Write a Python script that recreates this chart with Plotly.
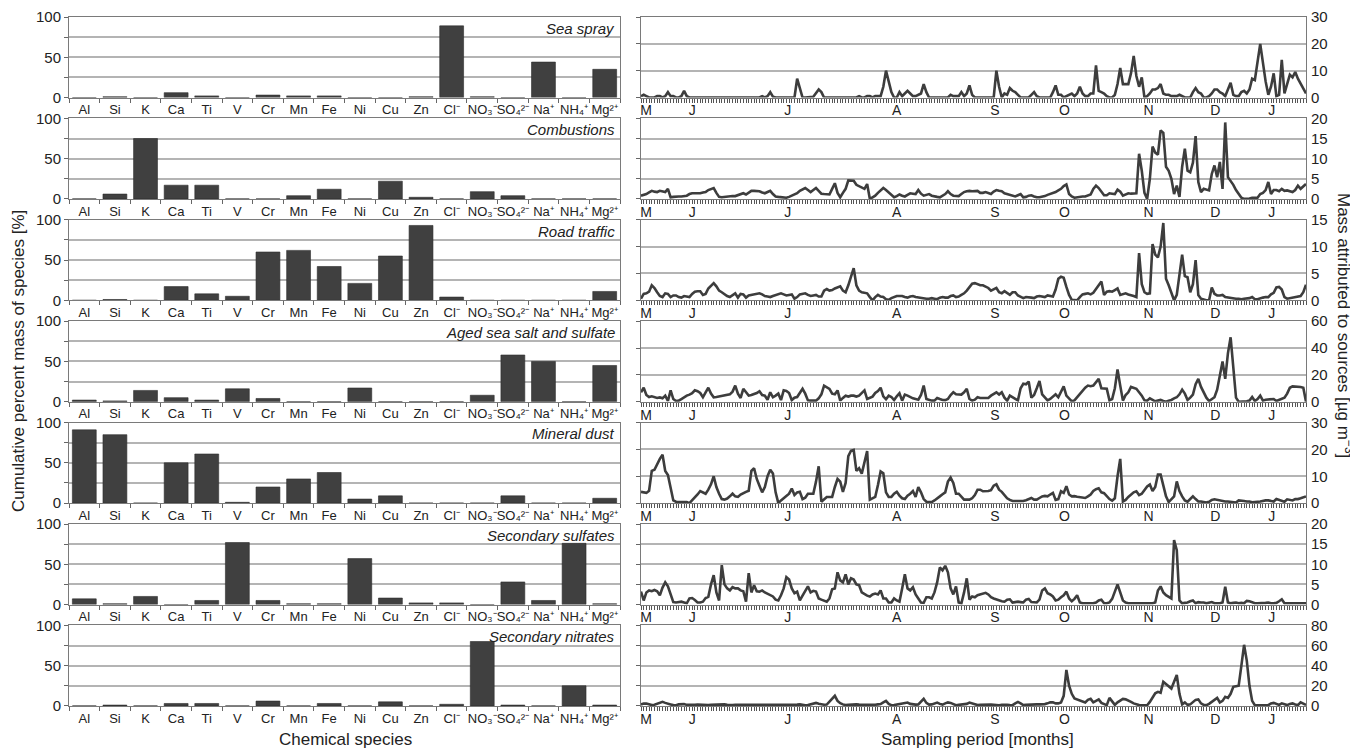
import plotly.graph_objects as go

# ---------------- data ----------------
sources = ["Sea spray", "Combustions", "Road traffic", "Aged sea salt and sulfate",
           "Mineral dust", "Secondary sulfates", "Secondary nitrates"]

species = ["Al", "Si", "K", "Ca", "Ti", "V", "Cr", "Mn", "Fe", "Ni", "Cu", "Zn",
           "Cl⁻", "NO₃⁻", "SO₄²⁻", "Na⁺", "NH₄⁺", "Mg²⁺"]

bar_sea_spray   = [0, 1, 0, 6, 2, 0, 3, 2, 2, 0, 0, 1, 89, 1, 0, 44, 0, 35]
bar_combustions = [0, 6, 75, 17, 17, 0, 0, 4, 12, 0, 22, 2, 0, 9, 4, 0, 0, 0]
bar_road        = [0, 1, 0, 17, 8, 5, 60, 62, 42, 21, 55, 93, 4, 0, 0, 0, 0, 11]
bar_aged        = [2, 1, 14, 5, 2, 16, 4, 0, 0, 17, 0, 0, 0, 8, 58, 50, 0, 45]
bar_dust        = [91, 85, 0, 50, 61, 1, 20, 30, 38, 5, 9, 0, 0, 0, 9, 0, 0, 6]
bar_sulfates    = [7, 1, 10, 0, 5, 77, 5, 1, 1, 57, 8, 2, 2, 0, 28, 5, 76, 1]
bar_nitrates    = [0, 1, 0, 3, 3, 0, 6, 0, 3, 0, 5, 0, 2, 80, 1, 0, 25, 1]

ts_sea_spray = [
    0.5, 1, 0.5, 0, 0, 0, 0.5, 0.5, 0, 0.5,
    2, 0.5, 0.5, 0, 0, 0.5, 2.5, 0.5, 0, 0,
    0, 0, 0, 0, 0, 0, 0, 0, 0, 0,
    0, 0, 0, 0, 0, 0, 0, 0, 0, 0,
    0, 0, 0, 0, 0, 0.5, 0, 0.5, 2, 0.3,
    0, 0, 0, 0, 0, 0, 0, 0, 7, 3,
    0, 0, 0, 0.2, 0.3, 1.5, 3, 2, 0, 0,
    0, 0, 0, 0, 0, 0, 0, 0, 0, 0,
    0, 0.5, 0, 0, 0.5, 0.5, 0, 0.5, 0.5, 0.5,
    4, 10, 6, 2, 0, 0, 2, 0.5, 1.5, 2.5,
    1.5, 0.5, 0.5, 1, 1.5, 5, 2, 0, 0, 0,
    0, 0, 0, 0, 0, 1, 0.5, 0.5, 0.5, 2,
    0.5, 1.5, 4.5, 1, 0, 0, 0, 0, 0, 0,
    0, 0, 10, 4, 0, 1.5, 1, 3.5, 2.5, 2,
    1, 0, 0, 0, 0, 1, 2, 0.5, 0, 0,
    0, 0, 0, 2, 4.5, 1, 1, 0, 0.5, 1,
    1.5, 0.5, 1.5, 4, 1.5, 0.5, 0.5, 1.5, 1.5, 12,
    2.5, 2, 1.5, 0.5, 0, 0, 1, 5, 11, 5,
    5, 5, 9, 15.5, 8, 4, 7.5, 0, 0.5, 1.5,
    3, 3, 3.5, 5, 1.5, 1, 1, 0.5, 0.5, 0.5,
    1, 0.5, 0, 0, 0, 2, 3.5, 2, 1.5, 0,
    0, 0.5, 1.5, 3, 3, 2, 1.5, 0.5, 3, 5.5,
    1, 0.5, 0.5, 2, 2.5, 1.5, 3, 7, 6.5, 14,
    20, 13, 6, 1, 4, 9, 0.5, 1, 14, 1.5,
    5, 8.5, 7.5, 9.5, 7, 5, 3, 1.5]

ts_combustions = [
    0.8, 1.0, 1.2, 1.6, 2, 1.8, 1.7, 2, 1.9, 1.7,
    2.5, 0.4, 0.5, 0.6, 0.6, 0.6, 0.7, 0.8, 1.2, 1.4,
    1.4, 1.4, 1.4, 1.6, 1.7, 2.2, 2.5, 2.7, 1.5, 0.5,
    0.4, 0.5, 0.6, 0.6, 0.7, 0.7, 1.0, 1.3, 1.4, 1.1,
    1.5, 2, 2, 1.9, 1.9, 1.6, 1.4, 1.7, 2, 1.2,
    0.6, 0.5, 0.4, 0.4, 0.3, 0.5, 0.8, 1.1, 1.4, 2,
    2.4, 2.7, 2.2, 1.7, 2.2, 2.7, 2, 1.3, 1.2, 1.1,
    1.1, 2.5, 3.9, 1.5, 0.4, 1.5, 2.5, 4.6, 4.6, 4.5,
    3.5, 3.1, 2.8, 2.5, 3.7, 0, 0.4, 0.8, 1.5, 2.2,
    2.7, 2.2, 1.6, 1.2, 0.4, 0.7, 1.1, 0.8, 0.6, 1.0,
    1.4, 1.3, 1.2, 2.2, 1.3, 0.8, 1, 1.2, 0.8, 0.6,
    0.5, 0.4, 0.7, 1.2, 1.9, 1.2, 0.8, 0.7, 0.7, 1.2,
    1.7, 1.9, 2, 1.9, 1.9, 2, 1.5, 1.5, 1.7, 1.4,
    1.2, 1.8, 2.2, 2, 1.9, 1.4, 1.2, 1.1, 0.9, 0.6,
    0.9, 1.2, 0.4, 0.5, 0.8, 0.9, 0.6, 0.4, 0.4, 0.5,
    0.7, 1.0, 1.2, 1.4, 1.7, 2.1, 2.5, 3.2, 3.6, 1.2,
    0.6, 0.3, 0.4, 0.6, 0.6, 0.6, 0.9, 1.1, 2.5, 3.3,
    2.7, 1.8, 0.9, 0.9, 1.4, 1.3, 1.2, 2.3, 1.8, 0.8,
    1.2, 1.4, 1.3, 1.3, 1.4, 11.2, 7, 1.5, 0, 5,
    13, 11.5, 11, 17, 16.4, 8, 7, 5, 1.2, 3.3,
    0.5, 8, 12.5, 7, 6.6, 9, 15.6, 4.2, 1.7, 2.5,
    2.2, 2.1, 6.2, 8.3, 5.4, 9.2, 2.5, 19, 5.4, 4.5,
    3.5, 2.2, 1.2, 0.3, 0, 0, 0.1, 0.3, 0.3, 0.3,
    1.2, 1.5, 2.2, 4.2, 1.2, 2.2, 2.2, 1.9, 2.5, 2,
    2.1, 1.9, 1.7, 2.2, 3.3, 2.5, 3, 3.7]

ts_road = [
    0.3, 1.2, 1.3, 1.6, 2.8, 2.3, 1.5, 0.8, 0.6, 1.3,
    1.2, 0.6, 0.9, 0.9, 0.6, 0.5, 0.8, 0.7, 0.6, 1.2,
    1.6, 1.7, 1.7, 1, 1.2, 2.2, 2.8, 3.2, 2.6, 1.8,
    1.5, 1.1, 0.8, 0.6, 0.9, 1.3, 0.5, 1.2, 1.1, 0.5,
    0.9, 1.0, 1.1, 1.2, 1.3, 1.1, 0.8, 0.7, 0.6, 0.8,
    1.0, 1.2, 1.3, 1.1, 0.9, 1.0, 1.1, 0.3, 0.6, 1.1,
    1.2, 1.3, 1.0, 0.8, 0.9, 1.0, 0.7, 0.7, 1.8, 2.1,
    1.8, 1.9, 2.2, 2.4, 2.6, 1.8, 1.5, 2.8, 4.5, 6,
    2.8, 1.8, 1.5, 1.4, 1.3, 0.6, 0, 0.6, 1.0, 0.7,
    0.6, 0.2, 0.1, 0.4, 0.6, 0.8, 0.8, 0.8, 0.6, 0.5,
    0.7, 0.8, 0.6, 0.5, 0.4, 0.3, 0.3, 0.3, 0.4, 0.3,
    0.2, 0.5, 0.6, 0.5, 0.5, 0.8, 0.9, 0.6, 0.7, 1.0,
    1.3, 1.8, 2.4, 3.1, 3.2, 3, 2.8, 2.8, 2.5, 2.3,
    1.8, 2.0, 2.3, 1.5, 1.3, 1.7, 1.4, 1.0, 1.5, 1.5,
    0.9, 0.6, 0.4, 0.6, 0.6, 0.5, 0.4, 0.7, 0.8, 0.7,
    0.6, 0.9, 0.8, 0.7, 2, 4.0, 4.4, 4.2, 2.5, 1.0,
    0.1, 0, 0, 0.6, 1.1, 1.2, 1.3, 1.1, 1.4, 2.1,
    2.8, 3.5, 1.0, 1.6, 1.7, 1.6, 1.9, 2.2, 1.0, 1.2,
    1.3, 1.1, 1.0, 0.8, 0.6, 8.8, 3, 1.5, 1.2, 1.3,
    10.5, 8.5, 8, 10, 14.4, 4, 2.8, 1.5, 0, 1,
    5, 8.5, 4.5, 4.3, 1.5, 3, 7.5, 1, 0.3, 0.1,
    0, 0, 2.4, 1.2, 0.9, 0.9, 1.0, 0.6, 0.5, 0.4,
    0.3, 0.3, 0.3, 0.2, 0.3, 0.3, 0.4, 0.6, 0.2, 0.2,
    0.4, 0.5, 0.6, 0.6, 1.1, 1.4, 2.4, 2.5, 2, 0.6,
    0.3, 0.4, 0.6, 0.6, 0.8, 0.8, 1.5, 2.9]

ts_aged = [
    7, 10.4, 5, 3.5, 4, 3.3, 2.8, 3.2, 2.5, 4.5,
    0.5, 8.4, 2, 0.5, 0.8, 2, 3.5, 4.5, 5.3, 6.3,
    8.5, 7.8, 6.5, 3.3, 7, 10.4, 6, 3.3, 3.5, 3.8,
    4.2, 4.5, 5, 5.5, 7.5, 12, 6, 2.8, 9.6, 7,
    4.5, 5, 5.5, 6.5, 7.8, 5, 4.5, 1.5, 7, 3.3,
    4.5, 6, 1.2, 8.5, 8, 6.5, 1.2, 3, 3.5, 6.5,
    9.6, 6, 1, 0.8, 0.8, 0.8, 2.5, 5.5, 12, 11,
    9.6, 6, 5.6, 8.4, 0.8, 2.8, 4.5, 3.8, 4.5, 4.5,
    3.8, 4.5, 6.5, 8.4, 2, 3, 3.8, 6.5, 8, 10.4,
    4, 1.8, 4.5, 3.5, 1.2, 4, 6.3, 0.8, 5.3, 4.5,
    3.3, 2.5, 2, 1.5, 5, 12, 2, 1.3, 0.8, 0.8,
    2.8, 2, 1.3, 1.2, 2, 5, 7, 5.5, 5.3, 5.3,
    7, 9.6, 2, 0.8, 1.5, 3.3, 2.8, 2.8, 2.8, 2.8,
    4.5, 6, 7, 5.3, 7, 3, 0.8, 4.5, 3.3, 1.8,
    1, 10, 13.4, 13, 15, 3, 5, 10, 15.4, 5.5,
    3.3, 1, 2, 3.5, 5.5, 3.3, 8, 11.4, 4.5, 2,
    0.3, 1, 3.3, 6, 8.4, 10.4, 12, 11.5, 12, 14.5,
    17, 10, 10, 9.6, 1, 2, 10, 24, 12, 0.8,
    5, 7, 11, 10.5, 9.6, 7, 4.5, 1, 0.8, 2.5,
    1.5, 0.3, 0.8, 1.3, 0.5, 0, 0.8, 1.3, 2.5, 3.3,
    5.5, 9, 6, 1.3, 3, 5.3, 13, 17, 11, 7,
    3, 0.5, 2, 3.3, 9, 20, 30, 17, 36, 48,
    25, 3, 0, 0, 0, 0.3, 0.8, 3.5, 0.5, 2,
    4.5, 0.8, 1.5, 1.8, 1.8, 2, 0.5, 1.3, 2.5, 3,
    6, 10.4, 11.4, 11.4, 11.4, 11, 10.4, 0]

ts_dust = [
    4.2, 4, 3.8, 4.6, 12, 12.4, 14.5, 16.5, 18, 12,
    10.5, 5, 1, 0.5, 0.5, 0.6, 0.4, 0.4, 0, 1,
    2.2, 3.2, 4.5, 4, 3.5, 5, 7, 10, 6, 3.5,
    1.5, 1.3, 1.7, 2.5, 3.5, 2.5, 2.3, 3.2, 3.8, 4.2,
    4.6, 12, 13, 9, 6.5, 4, 6, 10, 12.4, 11,
    4, 0, 1, 1.8, 2.5, 3.5, 5.4, 3, 4, 4.2,
    1.5, 2, 3.5, 3.5, 3.5, 8, 13.7, 0.5, 1.5, 2.3,
    2.3, 2.3, 6, 9, 8, 4.2, 7.5, 17.5, 19.5, 19.8,
    12, 13, 11, 15, 19.4, 1.3, 1.8, 2.3, 6.7, 11.8,
    11.1, 4, 2.3, 2.3, 3.5, 4.2, 2.8, 1.8, 1.5, 2.8,
    3.5, 4.5, 2.3, 6, 4, 1.5, 0.5, 0.4, 0.4, 1,
    1.6, 2.5, 3.3, 4, 8, 9.5, 7.5, 3.5, 3.5, 2.5,
    1.3, 1.3, 1.3, 1.8, 3, 5, 5, 4.4, 4.4, 4.5,
    4.8, 6.5, 7, 5, 4.2, 3, 1.8, 1.2, 0.8, 0.8,
    0.8, 0.8, 0.8, 1.1, 1.5, 1.9, 1.3, 1.3, 1.9, 2.5,
    2.7, 2.5, 3.2, 3.8, 1.2, 1.5, 4.4, 3.8, 6.3, 3.2,
    2.5, 2.6, 2.4, 2.2, 2, 1.9, 2.5, 3.2, 4.5, 5.2,
    5.5, 4, 3.7, 2.5, 1.5, 0.9, 1.8, 10, 16.5, 0.6,
    1.2, 2.3, 3.3, 4, 4.4, 3, 3.5, 5, 6.2, 6.9,
    4.5, 6, 10.6, 10.6, 7, 2.5, 0.4, 1.5, 2.5, 8.1,
    4.5, 2.5, 1, 0.5, 1.5, 2.5, 1.5, 0.6, 0.6, 0.4,
    0.2, 0.5, 1.2, 1.4, 1.2, 0.8, 0.7, 0.6, 0.6, 0.5,
    0.3, 0.2, 1, 1, 0.8, 0.6, 0.6, 0.3, 0.3, 0.5,
    0.6, 0.9, 1, 1, 0.8, 0.6, 1.5, 1.2, 0.7, 0.5,
    1.4, 1.1, 1, 1.5, 1.5, 1.8, 2.1, 2.5]

ts_sulfates = [
    3.2, 1, 3, 3.5, 3.3, 3.6, 3.3, 2.3, 4.2, 5.5,
    4.5, 2.5, 0.6, 0.5, 0.6, 0.7, 0.5, 0.3, 1.5, 1.6,
    1.1, 0.5, 0.5, 0.7, 1.6, 1.9, 5, 7.3, 3, 1,
    9.8, 5, 4, 3.5, 4.3, 4, 4, 3.5, 3.3, 0.7,
    7.8, 3, 4.8, 3.3, 3.2, 3.5, 3, 2.7, 2.3, 2,
    1.2, 1, 2.3, 4, 6.8, 6.2, 4, 2.8, 3.2, 1,
    2.2, 3.5, 4.5, 3, 3.4, 3.2, 1.5, 1.2, 1, 0.7,
    1.5, 3.8, 4, 8, 6, 5.5, 7.5, 5, 6.5, 6.2,
    5, 4.8, 3, 2.5, 2.2, 2, 2.5, 2.7, 2.5, 3.5,
    1.5, 1.5, 0.5, 0.5, 1.5, 1, 0.7, 4, 7.5, 4,
    3.5, 4.3, 2.5, 1.5, 0.5, 0.4, 1.8, 1.8, 1.5, 3,
    5.5, 9.2, 8.5, 9.6, 8, 4, 2.5, 4.5, 0.5, 0.3,
    3, 6.5, 1.2, 2, 1.8, 2.3, 2.5, 2.8, 2.9, 2.5,
    1.8, 1.5, 1.2, 0.9, 0.8, 0.7, 1.2, 1.3, 0.5, 0.6,
    0.7, 0.6, 0.5, 1.2, 1.4, 0.6, 0.5, 0.5, 1.2, 3.5,
    4, 2.8, 2.5, 2, 1, 1.2, 1.8, 2.3, 3.2, 1.5,
    0.8, 1.4, 2.3, 0.5, 0.3, 0.3, 0.3, 0.3, 0.3, 0.5,
    1, 1.2, 0.3, 0.3, 0.5, 1.4, 3, 5, 3, 1,
    0.5, 0.3, 0.3, 0.3, 0.3, 0.3, 0.3, 0.3, 0.3, 0.3,
    0.3, 0.5, 3.5, 4.5, 3, 2.3, 2, 1.5, 16, 13.5,
    1, 0.3, 0.4, 0.5, 0.8, 1.0, 0.3, 0.6, 0.5, 0.5,
    0.3, 0.5, 0.6, 0.3, 0.3, 0.3, 0.5, 4.4, 0.5, 0.3,
    0.4, 0.5, 0.3, 0.4, 0.3, 0.9, 0.8, 0.5, 0.3, 0.3,
    0.3, 0.3, 0.4, 0.5, 0.3, 0.3, 0.4, 0.8, 1.3, 0.3,
    0.3, 0.3, 0.3, 0.3, 0.3, 0.3, 0.3, 0.3]

ts_nitrates = [
    1.5, 2.3, 2.3, 1.5, 0.8, 1.2, 2.2, 3.2, 4, 3,
    2, 1.5, 0.8, 0.7, 1.5, 2, 1.8, 1, 0.8, 0.7,
    1, 1.3, 1, 0.8, 0.7, 0.8, 1.2, 1.3, 1.5, 1.6,
    1.8, 1.5, 1, 0.7, 0.8, 1, 1, 0.8, 0.7, 0.7,
    0.8, 0.9, 1, 0.8, 0.7, 0.8, 0.7, 0.6, 0.6, 0.7,
    0.6, 0.6, 0.6, 0.7, 0.7, 0.7, 0.8, 1, 1.3, 1.5,
    1, 0.7, 0.8, 1.5, 2.5, 3, 2.2, 1.5, 1.2, 1.3,
    4, 7, 10, 5, 2.7, 1.5, 0.8, 1.2, 1.5, 1.7,
    1.5, 1.3, 1.2, 1, 0.8, 0.8, 0.7, 1.2, 1.5, 1.8,
    3.5, 5, 2, 0.7, 0.8, 1.2, 1.5, 2.5, 3, 3.3,
    2, 1.5, 1.3, 1.5, 4, 7, 3, 1.3, 1.5, 2.5,
    3.3, 2, 1.3, 2.5, 3.5, 3, 1.5, 0.7, 1, 1.5,
    1.3, 2, 3.3, 2.5, 1.5, 0.8, 1, 1.2, 1.5, 1.2,
    1.3, 1.2, 0.8, 0.7, 1, 1.3, 1, 0.8, 0.7, 2.5,
    4, 2.5, 0.8, 1, 1.3, 1.5, 1.5, 1.5, 1.5, 1.5,
    1.8, 2.5, 3.5, 3.5, 2.5, 2.5, 3.5, 10, 35.7, 20,
    12, 7.5, 6.5, 5.5, 4, 3.5, 6, 7, 3.5, 5,
    6.5, 3, 1.5, 0.8, 8, 4, 1, 3.5, 5.5, 7,
    6.5, 5.5, 4, 2.5, 1.5, 0.8, 0.7, 0.7, 0.7, 4,
    8, 12.5, 14, 13, 24, 22, 20, 17.3, 24, 30.7,
    12, 1.5, 3.5, 1, 1.5, 3.5, 6, 6.5, 2.5, 1,
    0.7, 2, 4, 6, 8, 3.5, 5, 9, 8, 12,
    19, 19.5, 20, 40, 60.7, 45, 20, 5, 0.7, 0.5,
    0.3, 0.3, 0.5, 0.7, 2.5, 3, 2, 1, 2.5, 1.5,
    0.8, 2, 2.5, 1.5, 0.8, 3.5, 2, 1]

y_max = [30, 20, 15, 60, 30, 20, 80]
y_step = [10, 5, 5, 20, 10, 5, 20]

month_pos = [1.9, 19, 54.5, 95, 131.5, 157.3, 188.5, 213.3, 234.3]
month_lbl = ["M", "J", "J", "A", "S", "O", "N", "D", "J"]

bars = [bar_sea_spray, bar_combustions, bar_road, bar_aged, bar_dust, bar_sulfates, bar_nitrates]
series = [ts_sea_spray, ts_combustions, ts_road, ts_aged, ts_dust, ts_sulfates, ts_nitrates]

# ---------------- layout geometry (screen pixels) ----------------
OFF = 8                      # page body margin
W, H = 1358 - OFF, 750 - OFF # figure size
LX0, LX1 = 69, 620
RX0, RX1 = 641, 1306
TOP0, PITCH, PH = 17, 101.4, 80.5


def px(x):
    return (x - OFF) / W


def py(y):
    return 1 - (y - OFF) / H


FONT = "Liberation Sans, Arial, sans-serif"
BAR_C = "#404040"
LINE_C = "#3d3d3d"
GRID_C = "#b4b4b4"
FRAME_C = "#7a7a7a"
TXT_C = "#222222"


def nm(prefix, n):
    return prefix + ("" if n == 1 else str(n))


fig = go.Figure()
lay = {}
annotations = []

for k in range(7):
    top = TOP0 + PITCH * k
    bot = top + PH
    yd = [py(bot), py(top)]
    nL, nR, nO = 2 * k + 1, 2 * k + 2, 15 + k

    # --- bar panel ---
    fig.add_trace(go.Bar(
        x=species, y=bars[k], marker=dict(color=BAR_C, line=dict(color="#2b2b2b", width=0.6)),
        xaxis=nm("x", nL), yaxis=nm("y", nL), showlegend=False))
    lay[nm("xaxis", nL)] = dict(
        domain=[px(LX0), px(LX1)], anchor=nm("y", nL), type="category", automargin=False,
        range=[-0.5, len(species) - 0.5], tickson="boundaries", ticks="outside",
        ticklen=4, tickcolor="#666", tickangle=0, showline=True, mirror=True,
        linecolor=FRAME_C, linewidth=1, showgrid=False,
        tickfont=dict(size=13, color=TXT_C, family=FONT))
    lay[nm("yaxis", nL)] = dict(
        domain=yd, anchor=nm("x", nL), range=[0, 100], automargin=False,
        tickmode="array", tickvals=[0, 50, 100],
        ticks="outside", ticklen=4, tickcolor="#666", showgrid=True, gridcolor=GRID_C,
        gridwidth=1.5,
        minor=dict(tickmode="array", tickvals=[25, 75], ticks="outside", ticklen=4,
                   tickcolor="#666", showgrid=True, gridcolor=GRID_C, gridwidth=1.5),
        showline=True, mirror=True, linecolor=FRAME_C, linewidth=1,
        zeroline=False, tickfont=dict(size=15, color=TXT_C, family=FONT))
    annotations.append(dict(
        text="<i>" + sources[k] + "</i>", xref=nm("x", nL) + " domain", yref=nm("y", nL) + " domain",
        x=0.995, y=0.99, xanchor="right", yanchor="top", showarrow=False,
        font=dict(size=15, color=TXT_C, family=FONT)))

    # --- time series panel ---
    xs = list(range(len(series[k])))
    fig.add_trace(go.Scatter(
        x=xs, y=series[k], mode="lines", line=dict(color=LINE_C, width=2.6),
        xaxis=nm("x", nR), yaxis=nm("y", nR), showlegend=False))
    fig.add_trace(go.Scatter(
        x=xs, y=series[k], mode="none", hoverinfo="skip",
        xaxis=nm("x", nR), yaxis=nm("y", nO), showlegend=False))
    lay[nm("xaxis", nR)] = dict(
        domain=[px(RX0), px(RX1)], anchor=nm("y", nR), range=[0, len(xs) - 1],
        automargin=False,
        tickmode="array", tickvals=month_pos, ticktext=month_lbl, ticks="",
        minor=dict(tickmode="linear", tick0=0, dtick=1, ticks="outside", ticklen=4,
                   tickcolor="#555", tickwidth=1, showgrid=False),
        showline=True, mirror=True, linecolor=FRAME_C, linewidth=1, showgrid=False,
        zeroline=False, tickfont=dict(size=14, color=TXT_C, family=FONT))
    lay[nm("yaxis", nR)] = dict(
        domain=yd, anchor=nm("x", nR), range=[0, y_max[k]], tickmode="linear", tick0=0,
        dtick=y_step[k], ticks="outside", ticklen=4, tickcolor="#666", automargin=False,
        showticklabels=False, showgrid=True, gridcolor=GRID_C, gridwidth=1.5,
        showline=True, mirror=True, linecolor=FRAME_C, linewidth=1, zeroline=False)
    lay[nm("yaxis", nO)] = dict(
        overlaying=nm("y", nR), anchor=nm("x", nR), side="right", range=[0, y_max[k]],
        tickmode="linear", tick0=0, dtick=y_step[k], ticks="", showgrid=False,
        automargin=False, ticklabelstandoff=4,
        showline=False, zeroline=False, tickfont=dict(size=15, color=TXT_C, family=FONT))

annotations += [
    dict(text="Cumulative percent mass of species [%]", xref="paper", yref="paper",
         x=px(18), y=py(361), xanchor="center", yanchor="middle", textangle=-90,
         showarrow=False, font=dict(size=17, color=TXT_C, family=FONT)),
    dict(text="Mass attributed to sources [µg m<sup>−3</sup>]", xref="paper", yref="paper",
         x=px(1345), y=py(325), xanchor="center", yanchor="middle", textangle=90,
         showarrow=False, font=dict(size=17, color=TXT_C, family=FONT)),
    dict(text="Chemical species", xref="paper", yref="paper",
         x=px(345), y=py(739), xanchor="center", yanchor="middle",
         showarrow=False, font=dict(size=17, color=TXT_C, family=FONT)),
    dict(text="Sampling period [months]", xref="paper", yref="paper",
         x=px(977), y=py(739), xanchor="center", yanchor="middle",
         showarrow=False, font=dict(size=17, color=TXT_C, family=FONT)),
]

fig.update_layout(
    template="none",
    width=W, height=H, margin=dict(l=0, r=0, t=0, b=0, autoexpand=False),
    paper_bgcolor="white", plot_bgcolor="white", bargap=0.22,
    showlegend=False, annotations=annotations, font=dict(family=FONT, color=TXT_C), **lay)

fig.write_html("out.html")
